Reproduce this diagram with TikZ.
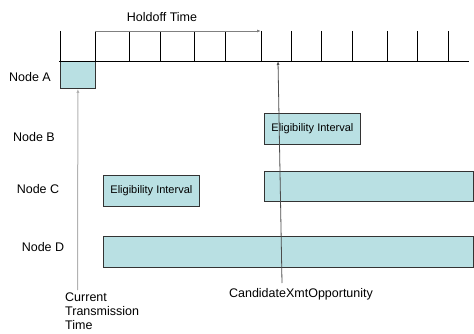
\documentclass[tikz,border=0pt]{standalone}
\usepackage{fontspec}
\setmainfont{Liberation Sans}
\usetikzlibrary{arrows.meta}
\definecolor{slotfill}{RGB}{185,224,227}
\begin{document}
\begin{tikzpicture}[x=1pt,y=-1pt,>={Latex[length=4pt,width=3pt]},
	main node/.style = {font=\fontsize{12.5}{14}\selectfont, inner sep=0pt},
	slot node/.style = {draw=black!80, fill=slotfill, line width=0.8pt, inner sep=0pt,
		anchor=north west, font=\fontsize{11}{13}\selectfont}]

	\useasboundingbox (0,0) rectangle (474,334);

	\node[main node] (1) at (30,77) {Node A};
	\node[main node] (2) at (34,137) {Node B};
	\node[main node] (3) at (38,189) {Node C};
	\node[main node] (4) at (43,247) {Node D};
	\node[main node] (5) at (162,17) {Holdoff Time};

	% slots
	\node[slot node, minimum width=35pt, minimum height=27pt] (a) at (60,61) {};
	\node[slot node, minimum width=96pt, minimum height=31pt] (b) at (264,113) {Eligibility Interval};
	\node[slot node, minimum width=96pt, minimum height=31pt] (c1) at (103,175) {Eligibility Interval};
	\node[slot node, minimum width=209pt, minimum height=30pt] (c2) at (264,171) {};
	\node[slot node, minimum width=370pt, minimum height=31pt] (d) at (103,236) {};

	% time line
	\draw[line width=0.8pt] (59,61) -- (469,61);
	\foreach \x in {60,95,129,160,194,225,261,291,321,352,387,417,448}
		\draw[line width=0.8pt] (\x,31) -- (\x,61);
	\draw[gray,line width=0.8pt,->] (95,31) -- (261,31);

	\node[main node, anchor=north west, align=left] (6) at (65,293) {Current\\Transmission\\Time};
	\node[main node, anchor=north] (7) at (301,288) {CandidateXmtOpportunity};

	\coordinate (t) at (77.5,290);
	\coordinate (o) at (282,283);
	\coordinate (x) at (278,61);
	\draw[gray!60,line width=1pt,->] (t) -- (a.south);
	\draw[black!70,line width=0.8pt,->] (o) -- (x);
\end{tikzpicture}
\end{document}
